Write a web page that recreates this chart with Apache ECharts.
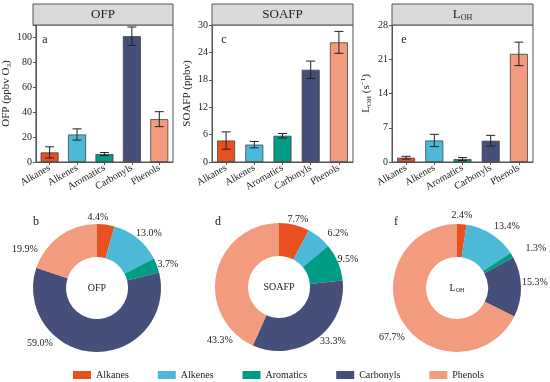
<!DOCTYPE html>
<html><head><meta charset="utf-8">
<script src="https://cdn.jsdelivr.net/npm/echarts@6/dist/echarts.min.js"></script>
<style>html,body{margin:0;padding:0;background:#fff}#c{width:550px;height:382px}</style>
</head><body><div id="c"></div>
<script>
// ---- data ----
const categories = ['Alkanes', 'Alkenes', 'Aromatics', 'Carbonyls', 'Phenols'];
const ofpMean = [7.7, 22.1, 6.4, 101.0, 34.4];
const ofpSd = [4.5, 4.5, 1.2, 7.4, 6.0];
const soafpMean = [4.7, 3.8, 5.75, 20.2, 26.2];
const soafpSd = [1.9, 0.7, 0.5, 1.9, 2.4];
const lohMean = [0.88, 4.4, 0.6, 4.35, 22.1];
const lohSd = [0.28, 1.25, 0.3, 1.1, 2.4];
const ofpPct = [4.4, 13.0, 3.7, 59.0, 19.9];
const soafpPct = [7.7, 6.2, 9.5, 33.3, 43.3];
const lohPct = [2.4, 13.4, 1.3, 15.3, 67.7];
const ofpTicks = {max: 110, interval: 20};
const soafpTicks = {max: 30, interval: 6};
const lohTicks = {max: 28, interval: 7};

// ---- style / layout ----
const colors = ['#E8501F', '#4DB9D8', '#009C86', '#454F79', '#F29B7E'];
const FONT = '"Liberation Serif", "DejaVu Serif", serif';
const TXT = '#222';
const grids = [
  {left: 33, top: 25, width: 140, height: 137},
  {left: 212, top: 25, width: 141, height: 137},
  {left: 392, top: 25, width: 141, height: 137}
];
const pieCenters = [[97, 288], [279, 287], [457, 288]];
const pieLabelOffsets = [
  [[1, -71], [52, -55], [71, -24], [-57, 55], [-72, -39]],
  [[19, -68], [59, -54], [69, -28], [54, 54], [-59, 53]],
  [[5, -73], [50, -62], [79, -40], [78, -6], [-65, 49]]
];

const rich = {
  n: {fontFamily: FONT, fontSize: 11, color: TXT},
  sub: {fontFamily: FONT, fontSize: 7, color: TXT, verticalAlign: 'bottom', padding: [6, 0, 0, 0]},
  sup: {fontFamily: FONT, fontSize: 7, color: TXT, verticalAlign: 'top', padding: [0, 0, 5, 0]}
};

const yNames = ['{n|OFP (ppbv O}{sub|3}{n|)}', '{n|SOAFP (ppbv)}', '{n|L}{sub|OH}{n| (s}{sup|−1}{n|)}'];
const ticks = [ofpTicks, soafpTicks, lohTicks];
const means = [ofpMean, soafpMean, lohMean];
const sds = [ofpSd, soafpSd, lohSd];
const pcts = [ofpPct, soafpPct, lohPct];

const xAxes = [], yAxes = [], series = [];
for (let i = 0; i < 3; i++) {
  xAxes.push({
    type: 'category', gridIndex: i, data: categories,
    axisLine: {lineStyle: {color: '#555'}},
    axisTick: {show: true, alignWithLabel: true, length: 3, lineStyle: {color: '#555'}},
    axisLabel: {rotate: 30, margin: 5, fontFamily: FONT, fontSize: 10, color: TXT, interval: 0}
  });
  yAxes.push({
    type: 'value', gridIndex: i, min: 0, max: ticks[i].max, interval: ticks[i].interval,
    name: yNames[i], nameLocation: 'middle', nameGap: 19, nameRotate: 90,
    nameTextStyle: {rich: rich},
    splitLine: {show: false},
    axisLine: {show: true, lineStyle: {color: '#555'}},
    axisTick: {show: true, length: 3, lineStyle: {color: '#555'}},
    axisLabel: {fontFamily: FONT, fontSize: 10, color: TXT, margin: 4,
      formatter: (v) => (i === 0 && v > 100) ? '' : String(v)}
  });
  series.push({
    type: 'bar', xAxisIndex: i, yAxisIndex: i, barWidth: 18,
    data: means[i].map((v, k) => ({value: v, itemStyle: {color: colors[k]}})),
    itemStyle: {borderColor: '#444', borderWidth: 0.8},
    silent: true
  });
  series.push({
    type: 'custom', xAxisIndex: i, yAxisIndex: i, silent: true, z: 5,
    data: means[i].map((v, k) => [k, v - sds[i][k], v + sds[i][k]]),
    renderItem: function (params, api) {
      const x = api.value(0);
      const lo = api.coord([x, api.value(1)]);
      const hi = api.coord([x, api.value(2)]);
      const c = 4.5;
      const st = {stroke: '#222', lineWidth: 1};
      return {type: 'group', children: [
        {type: 'line', shape: {x1: lo[0], y1: lo[1], x2: hi[0], y2: hi[1]}, style: st},
        {type: 'line', shape: {x1: lo[0] - c, y1: lo[1], x2: lo[0] + c, y2: lo[1]}, style: st},
        {type: 'line', shape: {x1: hi[0] - c, y1: hi[1], x2: hi[0] + c, y2: hi[1]}, style: st}
      ]};
    }
  });
}

for (let i = 0; i < 3; i++) {
  const cx = pieCenters[i][0], cy = pieCenters[i][1];
  const offs = pieLabelOffsets[i];
  series.push({
    type: 'pie', center: [cx, cy], radius: [31, 64], startAngle: 90, clockwise: true,
    avoidLabelOverlap: false, silent: true,
    data: categories.map((name, k) => ({name: name, value: pcts[i][k], itemStyle: {color: colors[k]}})),
    label: {show: true, position: 'outside', fontFamily: FONT, fontSize: 10, color: TXT,
      formatter: (p) => p.value.toFixed(1) + '%'},
    labelLine: {show: false, length: 4, length2: 0},
    labelLayout: function (p) {
      const o = offs[p.dataIndex];
      return {x: cx + o[0], y: cy + o[1], align: 'center', verticalAlign: 'middle'};
    }
  });
}

const headerTexts = ['{h|OFP}', '{h|SOAFP}', '{h|L}{hs|OH}'];
const centerTexts = ['{c|OFP}', '{c|SOAFP}', '{c|L}{cs|OH}'];
const panelLetters = [['a', 'c', 'e'], ['b', 'd', 'f']];
const hrich = {
  h: {fontFamily: FONT, fontSize: 13, fontWeight: 'normal', fill: TXT},
  hs: {fontFamily: FONT, fontSize: 8, fontWeight: 'normal', fill: TXT, padding: [7, 0, 0, 0]},
  c: {fontFamily: FONT, fontSize: 10, fontWeight: 'normal', fill: TXT},
  cs: {fontFamily: FONT, fontSize: 6, fontWeight: 'normal', fill: TXT, padding: [5, 0, 0, 0]}
};
const graphics = [];
for (let i = 0; i < 3; i++) {
  const g = grids[i];
  graphics.push({type: 'rect', shape: {x: g.left, y: 4, width: g.width, height: 21},
    style: {fill: '#d9d9d9', stroke: '#555', lineWidth: 1}, z: 10});
  graphics.push({type: 'text', x: g.left + g.width / 2, y: 14.5, z: 11,
    style: {text: headerTexts[i], rich: hrich, align: 'center', verticalAlign: 'middle'}});
  graphics.push({type: 'text', x: g.left + 12, y: 40, z: 11,
    style: {text: panelLetters[0][i], font: '12px ' + FONT, fill: TXT, align: 'center', verticalAlign: 'middle'}});
  const pc = pieCenters[i];
  graphics.push({type: 'text', x: pc[0], y: pc[1], z: 11,
    style: {text: centerTexts[i], rich: hrich, align: 'center', verticalAlign: 'middle'}});
  graphics.push({type: 'text', x: pc[0] - 61, y: 222, z: 11,
    style: {text: panelLetters[1][i], font: '12px ' + FONT, fill: TXT, align: 'center', verticalAlign: 'middle'}});
}

const chart = echarts.init(document.getElementById('c'), null, {renderer: 'canvas'});
chart.setOption({
  animation: false,
  grid: grids.map(g => Object.assign({show: true, borderColor: '#555', borderWidth: 1, backgroundColor: 'transparent'}, g)),
  xAxis: xAxes,
  yAxis: yAxes,
  series: series,
  legend: {
    data: categories, top: 370, left: 73, padding: 0, icon: 'rect', itemWidth: 18, itemHeight: 8, itemGap: 29,
    textStyle: {fontFamily: FONT, fontSize: 10, color: TXT}, selectedMode: false
  },
  graphic: graphics
});
</script></body></html>
